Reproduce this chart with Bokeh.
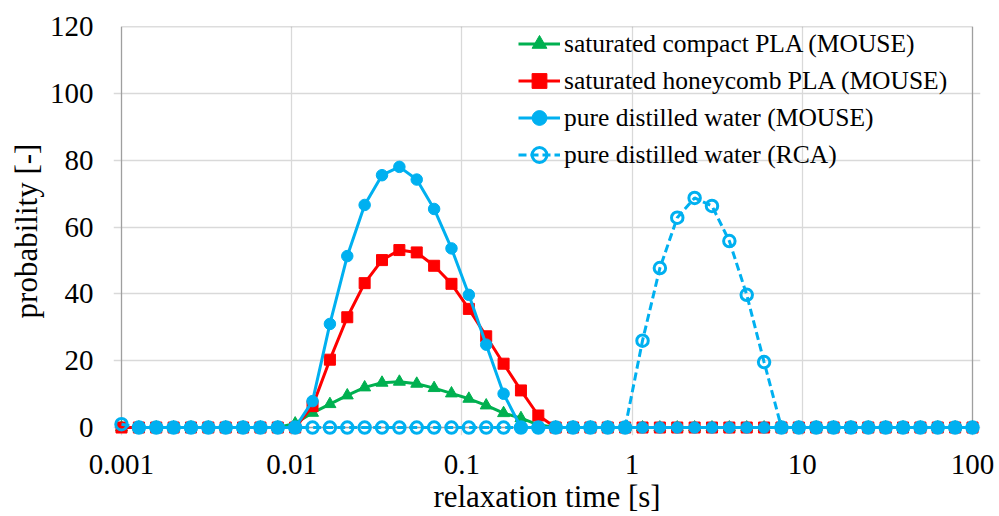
import numpy as np
from bokeh.plotting import figure
from bokeh.models import Range1d, FixedTicker, BoxAnnotation, Legend, LegendItem
from bokeh.embed import file_html
from bokeh.resources import INLINE

nan = float("nan")

# relaxation-time grid of the inversion: 50 log-spaced points, 0.001 s .. 100 s
relaxation_time = np.logspace(-3, 2, 50)

compact_pla_mouse = [0] * 10 + [1.2, 4.4, 7.0, 9.6, 12.0, 13.4, 13.7, 13.1, 11.8, 10.2,
                                8.6, 6.6, 4.3, 2.8, 0.8] + [0] * 25
honeycomb_pla_mouse = [0] * 11 + [6.4, 20.3, 33.0, 43.2, 50.1, 53.1, 52.4, 48.4, 43.0,
                                  35.5, 27.3, 19.1, 11.1, 3.6] + [0] * 25
water_mouse = [nan] + [0] * 10 + [7.9, 31.0, 51.3, 66.6, 75.5, 78.0, 74.2, 65.4, 53.6,
                                  39.7, 24.8, 10.1] + [0] * 27
water_rca = [1.0] + [0] * 29 + [26.0, 47.7, 62.8, 68.7, 66.3, 55.8, 39.7, 19.6] + [0] * 12

x_ticks = [0.001, 0.01, 0.1, 1, 10, 100]
x_tick_labels = ["0.001", "0.01", "0.1", "1", "10", "100"]
y_ticks = [0, 20, 40, 60, 80, 100, 120]

labels = ["saturated compact PLA (MOUSE)", "saturated honeycomb PLA (MOUSE)",
          "pure distilled water (MOUSE)", "pure distilled water (RCA)"]

GREEN = "#00B050"
RED = "#FF0000"
BLUE = "#00B0F0"
FONT = "Liberation Serif"

XMIN, XMAX = x_ticks[0], x_ticks[-1]
YMIN, YMAX = y_ticks[0], y_ticks[-1]
PAD_DEC = 0.047
PAD_Y = 2.388

p = figure(width=999, height=516, x_axis_type="log", output_backend="svg",
           toolbar_location=None,
           x_range=Range1d(XMIN / 10 ** PAD_DEC, XMAX * 10 ** PAD_DEC),
           y_range=Range1d(YMIN - PAD_Y, YMAX))
p.min_border_left = 113
p.min_border_right = 19
p.min_border_top = 26
p.min_border_bottom = 80
p.outline_line_color = None
p.background_fill_color = "white"
p.border_fill_color = "white"

for ax in (p.xaxis[0], p.yaxis[0]):
    ax.axis_line_color = None
    ax.major_tick_in = 0
    ax.major_tick_out = 0
    ax.minor_tick_in = 0
    ax.minor_tick_out = 0
    ax.major_label_text_font = FONT
    ax.major_label_text_font_size = "29px"
    ax.major_label_text_color = "black"
    ax.axis_label_text_font = FONT
    ax.axis_label_text_font_size = "31px"
    ax.axis_label_text_font_style = "normal"
    ax.axis_label_text_color = "black"

p.xaxis.ticker = FixedTicker(ticks=x_ticks, minor_ticks=[])
p.xaxis.major_label_overrides = {t: l for t, l in zip(x_ticks, x_tick_labels)}
p.xaxis.major_label_standoff = 19
p.xaxis.axis_label = "relaxation time [s]"
p.xaxis.axis_label_standoff = 2

p.yaxis.ticker = FixedTicker(ticks=y_ticks, minor_ticks=[])
p.yaxis.major_label_standoff = 20
p.yaxis.axis_label = "probability [-]"
p.yaxis.axis_label_standoff = 3

p.xgrid.ticker = FixedTicker(ticks=x_ticks, minor_ticks=[])
p.ygrid.ticker = FixedTicker(ticks=y_ticks, minor_ticks=[])
for g in (p.xgrid[0], p.ygrid[0]):
    g.grid_line_color = "#d9d9d9"
    g.grid_line_width = 1.3

box = BoxAnnotation(left=XMIN, right=XMAX, bottom=YMIN, top=YMAX,
                    fill_alpha=0, fill_color=None, line_color="#1a1a1a",
                    line_width=1.3, level="underlay")
p.add_layout(box)

items = []
l1 = p.line(relaxation_time, compact_pla_mouse, line_color=GREEN, line_width=3)
s1 = p.scatter(relaxation_time, compact_pla_mouse, marker="triangle", size=12,
               fill_color=GREEN, line_color=GREEN, line_width=1)
items.append(LegendItem(label=labels[0], renderers=[l1, s1]))

l2 = p.line(relaxation_time, honeycomb_pla_mouse, line_color=RED, line_width=3)
s2 = p.scatter(relaxation_time, honeycomb_pla_mouse, marker="square", size=11,
               fill_color=RED, line_color=RED, line_width=1)
items.append(LegendItem(label=labels[1], renderers=[l2, s2]))

l3 = p.line(relaxation_time, water_mouse, line_color=BLUE, line_width=3)
s3 = p.scatter(relaxation_time, water_mouse, marker="circle", size=11.5,
               fill_color=BLUE, line_color=BLUE, line_width=1)
items.append(LegendItem(label=labels[2], renderers=[l3, s3]))

l4 = p.line(relaxation_time, water_rca, line_color=BLUE, line_width=3, line_dash="8 4")
s4 = p.scatter(relaxation_time, water_rca, marker="circle", size=11.5,
               fill_color=None, line_color=BLUE, line_width=3)
items.append(LegendItem(label=labels[3], renderers=[l4, s4]))

legend = Legend(items=items, location=(405, 262), orientation="vertical",
                glyph_width=42, glyph_height=37, label_height=37, label_standoff=4,
                spacing=0, padding=0, margin=0,
                label_text_font=FONT, label_text_font_size="25.5px",
                label_text_color="black", label_text_baseline="middle",
                border_line_color=None, background_fill_alpha=0)
p.add_layout(legend, "center")

open("out.html", "w").write(file_html(p, INLINE))
